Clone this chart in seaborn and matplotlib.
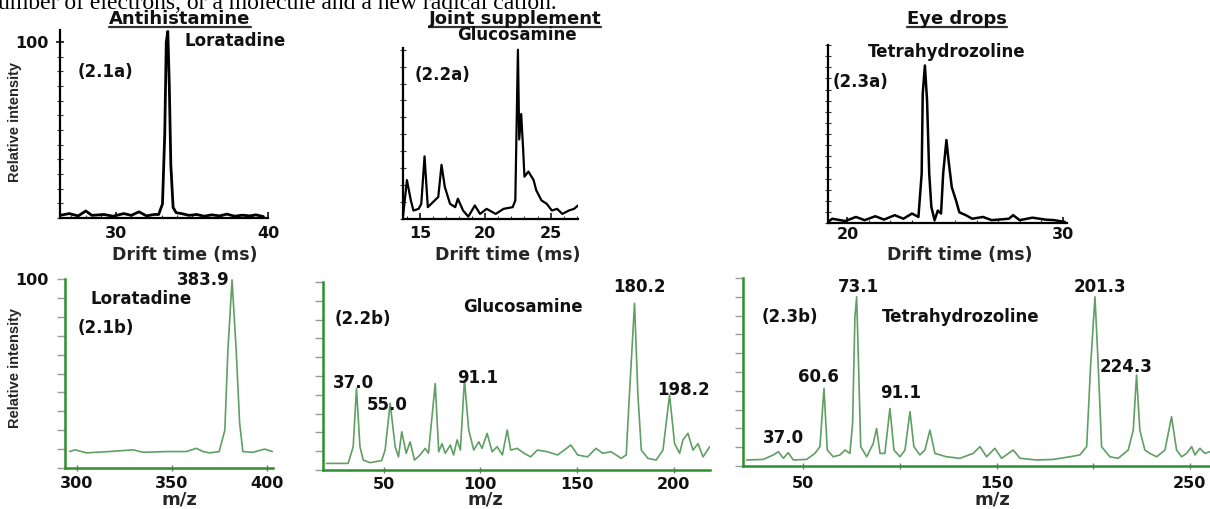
import matplotlib
matplotlib.use("Agg")
import matplotlib.pyplot as plt
import seaborn as sns
import pandas as pd
from matplotlib.lines import Line2D
from matplotlib.ticker import FixedLocator

# ---------------- data ----------------
# (2.1a) Loratadine, drift time spectrum
lor_drift_ms = [26.3, 26.9, 27.5, 28.0, 28.4, 29.2, 29.8, 30.5, 31.0, 31.5, 32.0, 32.5, 32.8,
                33.05, 33.2, 33.3, 33.4, 33.5, 33.6, 33.75, 33.95, 34.3, 34.8, 35.3, 35.8,
                36.3, 36.8, 37.3, 37.8, 38.3, 38.8, 39.2, 39.7]
lor_drift_int = [1.5, 2.5, 1.2, 4.0, 1.5, 2.0, 1.0, 2.5, 1.5, 3.5, 1.2, 2.0, 2.0,
                 8, 48, 100, 106, 75, 30, 6, 3, 2.5, 1.5, 2.0, 1.0,
                 1.8, 1.2, 2.2, 1.0, 1.6, 1.2, 1.8, 0.8]

# (2.2a) Glucosamine, drift time spectrum
glu_drift_ms = [13.7, 14.0, 14.3, 14.5, 14.9, 15.1, 15.35, 15.6, 16.0, 16.4,
                16.65, 16.9, 17.3, 17.7, 17.9, 18.3, 18.7, 19.2, 19.6, 20.1,
                20.8, 21.4, 22.1, 22.3, 22.5, 22.6, 22.75, 22.9, 23.0, 23.3,
                23.7, 23.9, 24.3, 24.7, 25.1, 25.5, 25.9, 26.4, 26.8, 27.1]
glu_drift_int = [1.4, 23, 11, 5, 6, 9, 37, 7, 10, 13,
                 32, 19, 9, 7, 12, 5, 1.4, 8, 3, 6,
                 3, 6, 7, 11, 100, 47, 62, 41, 25, 28,
                 23, 17, 11, 9, 5, 6, 3, 5, 6, 8]

# (2.3a) Tetrahydrozoline, drift time spectrum
thz_drift_ms = [19.1, 19.3, 19.9, 20.4, 20.8, 21.3, 21.7, 22.2, 22.6, 23.0,
                23.3, 23.45, 23.5, 23.6, 23.7, 23.8, 23.9, 24.05, 24.2, 24.35,
                24.45, 24.6, 24.7, 24.85, 25.05, 25.2, 25.5, 25.8, 26.3, 26.7,
                27.5, 27.7, 28.0, 28.6, 29.2, 29.6, 30.1]
thz_drift_int = [0.6, 2.4, 1.1, 3.4, 1.6, 3.8, 1.9, 4.4, 2.4, 5.3,
                 3.4, 27.7, 72.6, 88.5, 69, 28, 9, 1.6, 7, 5.3,
                 28, 46.6, 35, 20, 12.5, 6, 4.4, 2.4, 3.4, 1.6,
                 2.4, 4.4, 1.6, 3, 1.9, 1.6, 0.6]

# (2.1b) Loratadine mass spectrum
lor_mz = [296.2, 299, 305, 317, 329.7, 335, 347, 357.7, 363, 366.5,
          370, 375, 378, 379.6, 381.8, 384, 385.8, 387.5, 392.8, 399, 403]
lor_ms_int = [8.7, 9.6, 8.0, 8.7, 9.6, 8.3, 8.7, 8.7, 10.4, 8.7,
              8.0, 8.7, 20, 62, 99.5, 62, 23.8, 8.7, 8.3, 10, 8.7]

# (2.2b) Glucosamine mass spectrum
glu_mz = [20.5, 31.7, 34.3, 36.0, 37.8, 39.5, 43.0, 49.0, 50.8, 53.4,
          56.0, 57.7, 59.4, 61.7, 63.7, 66.0, 68.9, 71.5, 73.2, 76.7,
          78.5, 80.2, 81.9, 84.5, 86.2, 88.0, 89.7, 91.8, 94.0, 96.6,
          99.2, 100.9, 103.5, 106.1, 108.7, 111.4, 113.9, 115.7, 119.1, 122.6,
          126.0, 129.5, 134.7, 139.9, 143.4, 146.8, 150.3, 155.4, 159.8, 163.2,
          167.6, 172.8, 175.4, 177.1, 179.7, 181.4, 183.2, 186.6, 190.9, 194.4,
          197.8, 200.4, 203.0, 204.7, 207.3, 209.9, 212.5, 215.1, 218.6]
glu_ms_int = [3.5, 3.5, 12.4, 43.4, 12.4, 5.3, 3.9, 5.0, 10.6, 35.5,
              12.4, 7.0, 20.4, 8.9, 15.0, 5.3, 8.0, 11.5, 8.9, 46.0,
              9.7, 14.0, 8.9, 13.3, 8.0, 16.0, 10.6, 47.9, 21.3, 10.6,
              15.0, 11.5, 19.5, 9.7, 12.4, 8.0, 21.3, 10.6, 11.5, 8.9,
              7.0, 10.6, 9.7, 8.0, 10.6, 13.3, 8.0, 7.0, 11.5, 8.9,
              9.7, 6.2, 8.0, 40.8, 88.7, 40.8, 10.6, 6.2, 5.3, 10.6,
              40.0, 14.0, 8.9, 16.0, 19.5, 10.6, 14.0, 7.0, 12.4]

# (2.3b) Tetrahydrozoline mass spectrum
thz_mz = [20.7, 29.3, 34.5, 37.1, 39.7, 42.2, 44.8, 51.7, 56.0, 58.6,
          60.7, 62.4, 65.5, 69.0, 71.6, 74.1, 75.5, 76.7, 77.6, 78.6,
          79.7, 82.8, 86.2, 87.9, 89.7, 92.2, 94.8, 96.9, 100.0, 102.6,
          105.2, 107.2, 110.3, 112.9, 115.5, 118.1, 124.1, 131.0, 137.9, 141.4,
          144.8, 149.1, 152.6, 158.6, 162.1, 170.7, 179.3, 187.9, 193.1, 196.6,
          198.6, 200.9, 202.6, 204.3, 208.6, 212.9, 218.1, 220.7, 222.4, 224.1,
          226.7, 229.3, 232.8, 237.1, 240.5, 243.1, 245.7, 248.3, 250.9, 252.6,
          255.2, 257.8, 260.3]
thz_ms_int = [3.2, 3.5, 5.9, 7.6, 4.1, 7.1, 3.2, 3.5, 6.7, 10.3,
              41.3, 8.5, 4.9, 5.9, 8.5, 6.7, 22.7, 79.4, 90.0, 52.8,
              10.3, 4.9, 12.0, 20.0, 6.7, 6.7, 30.6, 8.5, 4.9, 8.5,
              28.9, 10.3, 5.9, 8.5, 19.1, 6.7, 4.9, 4.1, 6.7, 10.3,
              4.9, 9.4, 4.1, 8.5, 4.1, 3.2, 3.5, 4.9, 5.9, 10.3,
              52.8, 90.0, 52.8, 10.3, 4.9, 4.1, 8.5, 19.1, 48.4, 19.1,
              8.5, 6.7, 4.9, 8.5, 26.2, 8.5, 4.9, 6.7, 10.3, 5.9,
              9.4, 6.7, 7.6]

# tick labels
lor_drift_ticks = [30, 40]
glu_drift_ticks = [15, 20, 25]
thz_drift_ticks = [20, 30]
lor_mz_ticks = [300, 350, 400]
glu_mz_ticks = [50, 100, 150, 200]
thz_mz_ticks = [50, 150, 250]
thz_mz_minor = [100, 200]

# ---------------- style ----------------
sns.set_style("ticks")
plt.rcParams["font.family"] = ["DejaVu Sans"]
plt.rcParams["font.weight"] = "bold"
plt.rcParams["axes.labelweight"] = "bold"

W, H = 1210, 509
fig = plt.figure(figsize=(W / 100, H / 100), dpi=100)
fig.patch.set_facecolor("white")

GREEN_AX = "#2f8f2f"
GREEN_LN = "#5f9f62"
FS = 12
TICK_FS = 11.5


def rect(l, t, r, b):
    return [l / W, 1 - b / H, (r - l) / W, (b - t) / H]


def ftext(x, y, s, ha="left", size=FS, **kw):
    return fig.text(x / W, 1 - y / H, s, ha=ha, va="center", fontsize=size,
                    fontweight="bold", color="#111111", **kw)


def style_axes(ax, spine_color, lw):
    sns.despine(ax=ax)
    for s in ("left", "bottom"):
        ax.spines[s].set_color(spine_color)
        ax.spines[s].set_linewidth(lw)
    ax.set_facecolor("white")
    ax.grid(False)


YLAB_KW = dict(fontsize=10.5, fontweight="bold", family=["Liberation Sans", "DejaVu Sans"])

# ---------------- top row: drift-time spectra (black) ----------------
top_specs = [
    dict(r=(60, 30, 268, 218), x=lor_drift_ms, y=lor_drift_int, xlim=(26.3, 39.7), ylim=(0, 106.8),
         ticks=lor_drift_ticks, lw=2.0, ylab=True, lab_x=0.60, lab_y=-0.195, ymin_step=100 / 12,
         yticks=[100], pad=6),
    dict(r=(403, 48, 578, 219), x=glu_drift_ms, y=glu_drift_int, xlim=(13.7, 27.1), ylim=(0, 101),
         ticks=glu_drift_ticks, lw=1.6, ylab=False, lab_x=0.60, lab_y=-0.21, ymin_step=10,
         yticks=[], pad=5),
    dict(r=(828, 45, 1067, 223), x=thz_drift_ms, y=thz_drift_int, xlim=(19.1, 30.2), ylim=(0, 100),
         ticks=thz_drift_ticks, lw=1.8, ylab=False, lab_x=0.55, lab_y=-0.18, ymin_step=100 / 16,
         yticks=[], pad=3),
]

for sp in top_specs:
    ax = fig.add_axes(rect(*sp["r"]))
    df = pd.DataFrame({"t": sp["x"], "i": sp["y"]})
    sns.lineplot(data=df, x="t", y="i", ax=ax, color="black", linewidth=sp["lw"],
                 estimator=None, sort=False)
    style_axes(ax, "black", 1.6)
    ax.set_xlim(*sp["xlim"])
    ax.set_ylim(*sp["ylim"])
    ax.set_xticks(sp["ticks"])
    ax.set_xticklabels([str(t) for t in sp["ticks"]])
    lo, hi = sp["xlim"]
    ax.xaxis.set_minor_locator(FixedLocator([v for v in range(int(lo) + 1, int(hi) + 1)]))
    ax.set_yticks(sp["yticks"])
    ax.set_yticklabels([str(t) for t in sp["yticks"]])
    n = int(round(sp["ylim"][1] / sp["ymin_step"]))
    ax.yaxis.set_minor_locator(FixedLocator([k * sp["ymin_step"] for k in range(n + 1)
                                             if k * sp["ymin_step"] <= sp["ylim"][1]]))
    ax.tick_params(axis="both", which="both", left=True, bottom=True, top=False, right=False)
    ax.tick_params(axis="x", which="major", direction="in", length=4, width=1.2, pad=sp["pad"],
                   labelsize=TICK_FS, colors="#111111")
    ax.tick_params(axis="x", which="minor", direction="in", length=2.5, width=0.8, color="#333333")
    ax.tick_params(axis="y", which="major", direction="inout", length=6, width=1.2, pad=5,
                   labelsize=TICK_FS, colors="#111111")
    ax.tick_params(axis="y", which="minor", direction="inout", length=4, width=0.8, color="#333333")
    ax.set_xlabel("Drift time (ms)", fontsize=12.5, fontweight="bold")
    ax.xaxis.set_label_coords(sp["lab_x"], sp["lab_y"])
    ax.xaxis.label.set_va("center")
    if sp["ylab"]:
        ax.set_ylabel("Relative intensity", **YLAB_KW)
        ax.yaxis.set_label_coords(-0.183, 0.51)
    else:
        ax.set_ylabel("")

# ---------------- bottom row: mass spectra (green) ----------------
bot_specs = [
    dict(r=(65, 279, 273, 468), x=lor_mz, y=lor_ms_int, xlim=(293.7, 403.4), ticks=lor_mz_ticks,
         minor=[], ylab=True, lab_x=0.55, lab_y=-0.165, yticks=[100], pad=4),
    dict(r=(323, 282, 710, 470), x=glu_mz, y=glu_ms_int, xlim=(18.7, 218.7), ticks=glu_mz_ticks,
         minor=[], ylab=False, lab_x=0.42, lab_y=-0.155, yticks=[], pad=3),
    dict(r=(743, 278, 1210, 466), x=thz_mz, y=thz_ms_int, xlim=(18.8, 260.4), ticks=thz_mz_ticks,
         minor=thz_mz_minor, ylab=False, lab_x=0.535, lab_y=-0.176, yticks=[], pad=5),
]

for sp in bot_specs:
    ax = fig.add_axes(rect(*sp["r"]))
    df = pd.DataFrame({"mz": sp["x"], "i": sp["y"]})
    sns.lineplot(data=df, x="mz", y="i", ax=ax, color=GREEN_LN, linewidth=1.2,
                 estimator=None, sort=False)
    style_axes(ax, GREEN_AX, 1.8)
    ax.set_xlim(*sp["xlim"])
    ax.set_ylim(0, 100)
    ax.set_xticks(sp["ticks"])
    ax.set_xticklabels([str(t) for t in sp["ticks"]])
    ax.xaxis.set_minor_locator(FixedLocator(sp["minor"]))
    ax.set_yticks(sp["yticks"])
    ax.set_yticklabels([str(t) for t in sp["yticks"]])
    ax.yaxis.set_minor_locator(FixedLocator(list(range(0, 101, 10))))
    ax.tick_params(axis="both", which="both", left=True, bottom=True, top=False, right=False)
    ax.tick_params(axis="x", which="both", direction="inout", length=4, width=1.0,
                   color="#777777", pad=sp["pad"], labelsize=TICK_FS, labelcolor="#111111")
    ax.tick_params(axis="y", which="both", direction="out", length=6, width=1.0,
                   color="#9a9a9a", pad=6, labelsize=TICK_FS, labelcolor="#111111")
    ax.set_xlabel("m/z", fontsize=13, fontweight="bold")
    ax.xaxis.set_label_coords(sp["lab_x"], sp["lab_y"])
    ax.xaxis.label.set_va("center")
    if sp["ylab"]:
        ax.set_ylabel("Relative intensity", **YLAB_KW)
        ax.yaxis.set_label_coords(-0.207, 0.53)
    else:
        ax.set_ylabel("")

# ---------------- texts ----------------
fig.text(-2 / W, 1 - 9 / H, "umber of electrons, or a molecule and a new radical cation.",
         ha="left", va="baseline", fontsize=17, fontweight="normal",
         family=["Liberation Serif", "DejaVu Serif"], color="black")

titles = [ftext(180, 19, "Antihistamine", ha="center", size=13),
          ftext(515, 19, "Joint supplement", ha="center", size=13),
          ftext(957, 19, "Eye drops", ha="center", size=13)]

ftext(185, 41, "Loratadine")
ftext(78, 72, "(2.1a)")
ftext(517, 35, "Glucosamine", ha="center")
ftext(415, 75, "(2.2a)")
ftext(868, 52, "Tetrahydrozoline")
ftext(833, 82, "(2.3a)")

ftext(230, 280, "383.9", ha="right")
ftext(90, 299, "Loratadine")
ftext(78, 328, "(2.1b)")
ftext(639, 287, "180.2", ha="center")
ftext(463, 307, "Glucosamine")
ftext(335, 319, "(2.2b)")
ftext(333, 383, "37.0")
ftext(367, 405, "55.0")
ftext(457, 378, "91.1")
ftext(657, 390, "198.2")
ftext(858, 287, "73.1", ha="center")
ftext(1100, 287, "201.3", ha="center")
ftext(762, 317, "(2.3b)")
ftext(882, 317, "Tetrahydrozoline")
ftext(798, 377, "60.6")
ftext(880, 393, "91.1")
ftext(1100, 367, "224.3")
ftext(763, 438, "37.0")

# underline the three product titles
fig.canvas.draw()
renderer = fig.canvas.get_renderer()
for t in titles:
    bb = t.get_window_extent(renderer)
    yy = (bb.y0 + 1) / H
    fig.add_artist(Line2D([bb.x0 / W, bb.x1 / W], [yy, yy], transform=fig.transFigure,
                          color="#333333", linewidth=1.6))

fig.savefig("out.png", dpi=100, facecolor="white")
